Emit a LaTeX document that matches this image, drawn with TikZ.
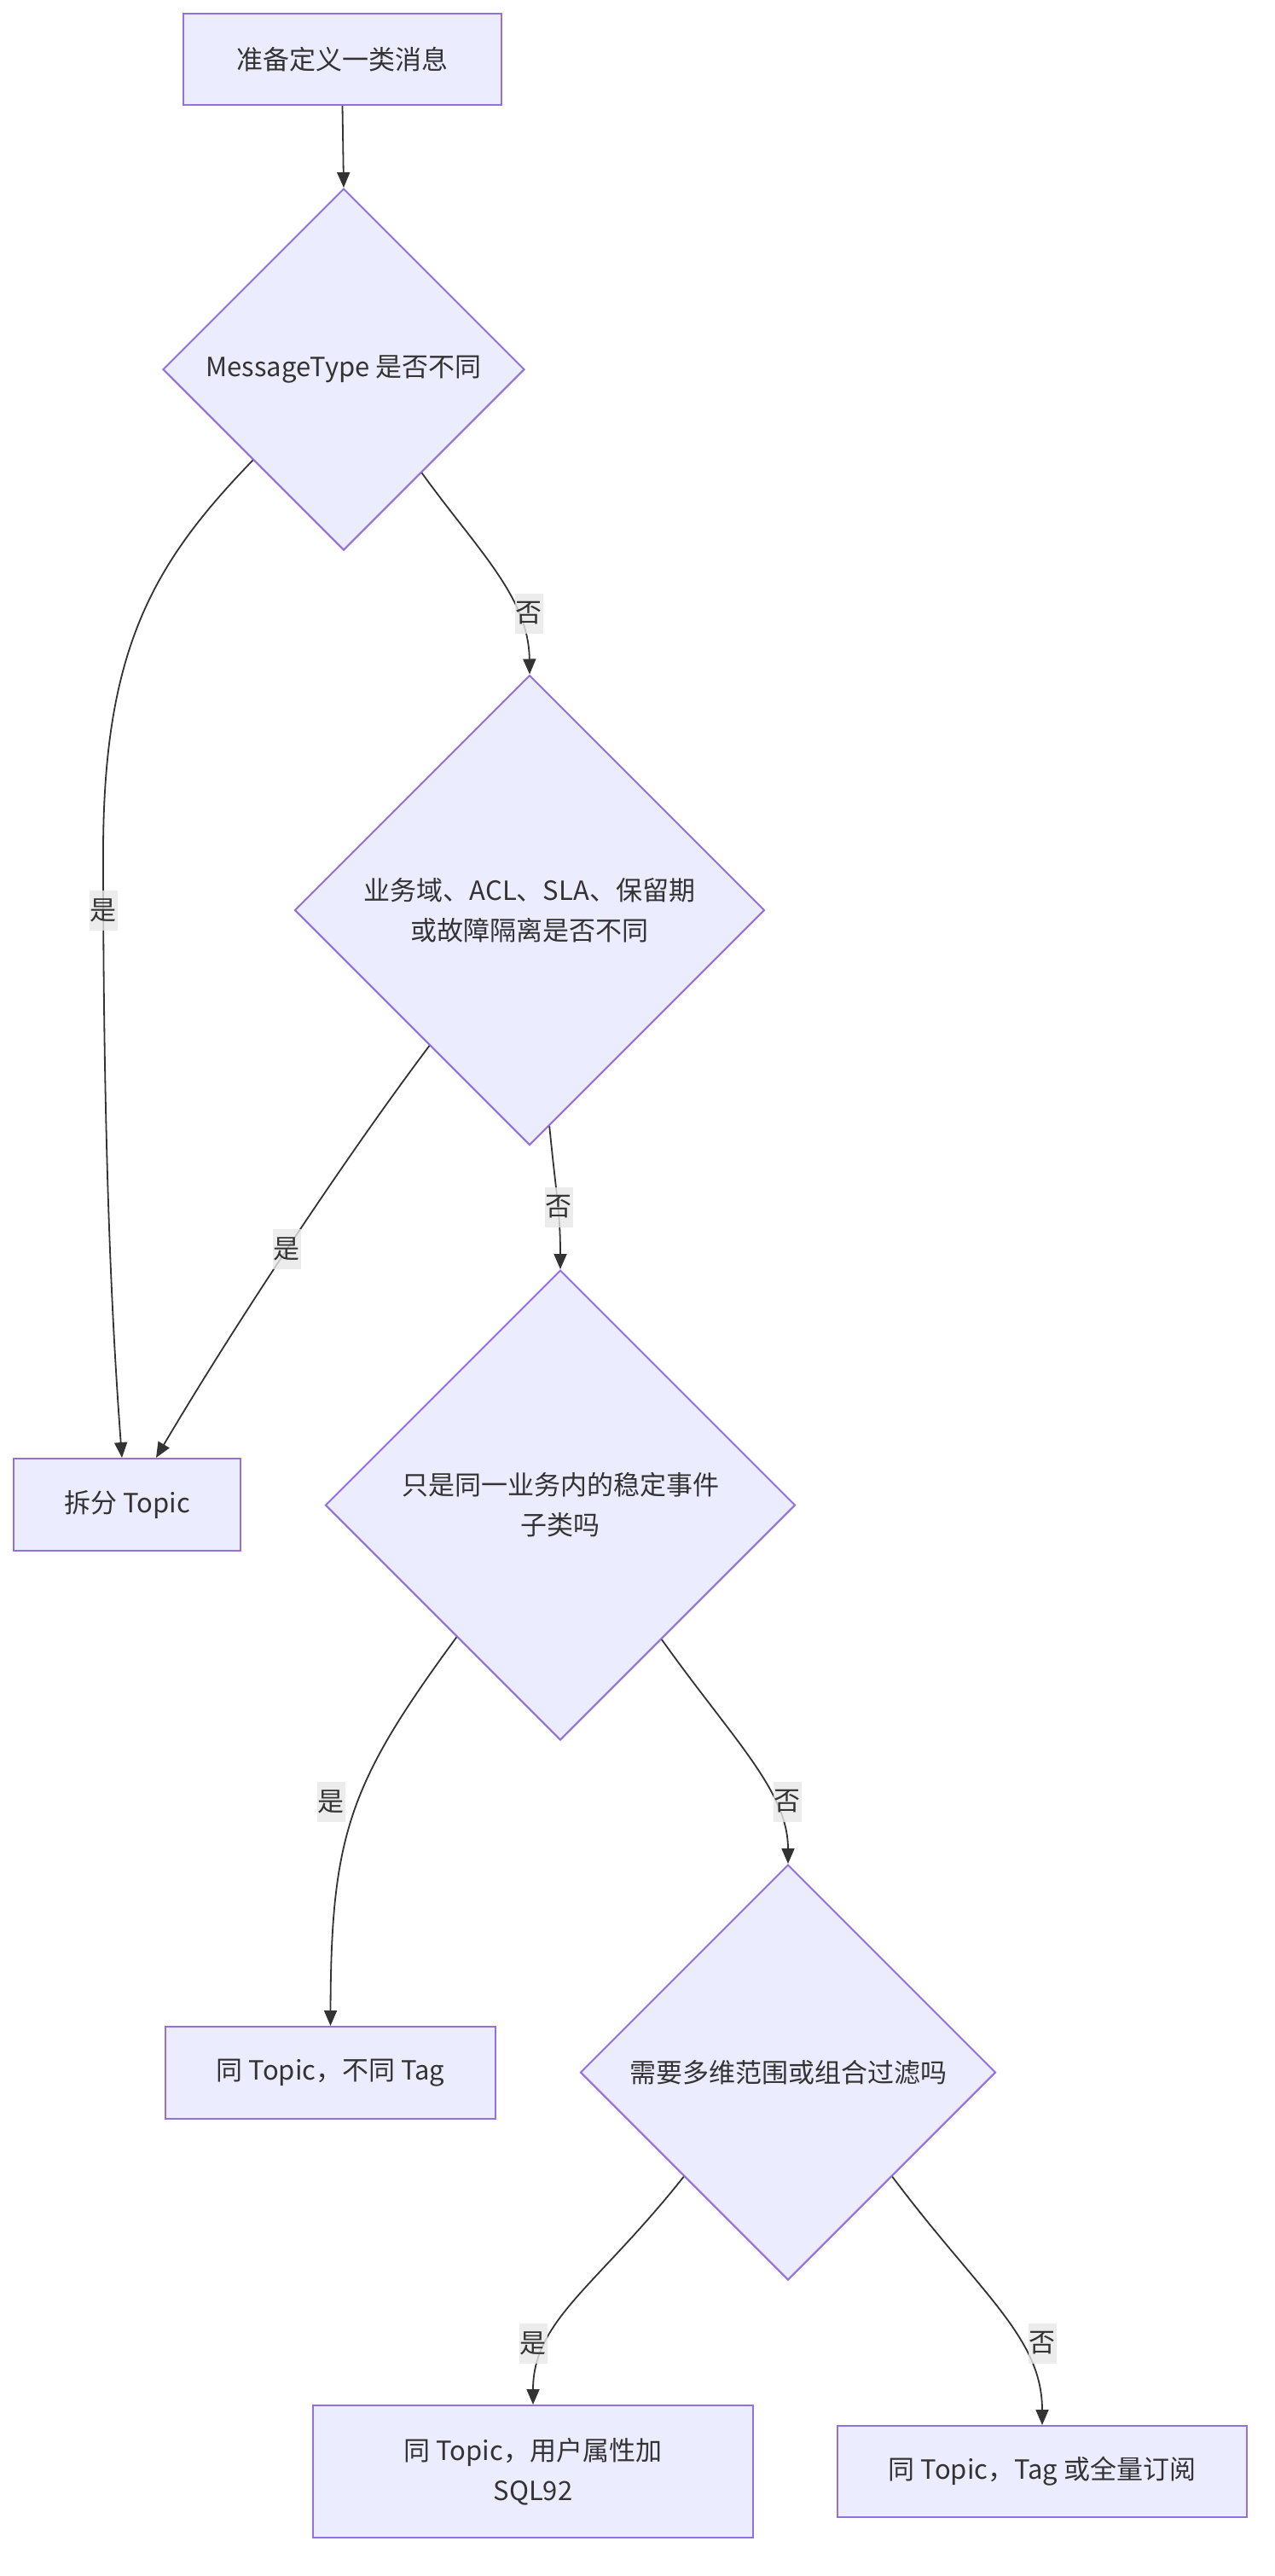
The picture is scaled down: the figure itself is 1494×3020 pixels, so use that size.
\documentclass[tikz,border=0pt]{standalone}
\usepackage{fontspec}
\setmainfont{Noto Sans CJK SC}
\usetikzlibrary{shapes.geometric,arrows.meta,calc}
\definecolor{nodefill}{HTML}{ECECFF}
\definecolor{nodeborder}{HTML}{9370DB}
\definecolor{edgecol}{HTML}{333333}
\definecolor{labelbg}{HTML}{E8E8E8}
\begin{document}
\begin{tikzpicture}[x=1pt,y=-1pt,
  txt/.style={text=edgecol,font=\fontsize{31}{47}\selectfont,align=center},
  box/.style={txt,rectangle,draw=nodeborder,fill=nodefill,line width=2pt,inner sep=0pt},
  dia/.style={txt,diamond,draw=nodeborder,fill=nodefill,line width=2pt,inner sep=0pt},
  conn/.style={draw=edgecol,line width=1.8pt,-{Triangle[length=18pt,width=15pt]}},
  lbl/.style={txt,fill=labelbg,fill opacity=0.8,text opacity=1,inner xsep=1pt,inner ysep=0pt,minimum height=47pt}]
\fill[white] (0,0) rectangle (1494,3020);
\useasboundingbox (0,0) rectangle (1494,3020);

% nodes
\node[box,minimum width=373pt,minimum height=107pt] (start) at (401.5,69.5) {准备定义一类消息};
\node[dia,minimum width=424pt,minimum height=424pt] (q1) at (403,433) {MessageType 是否不同};
\node[dia,minimum width=551pt,minimum height=551pt] (q2) at (621,1067) {业务域、ACL、SLA、保留期\\或故障隔离是否不同};
\node[box,minimum width=266pt,minimum height=108pt] (split) at (149,1764) {拆分 Topic};
\node[dia,minimum width=551pt,minimum height=551pt] (q3) at (657,1764.5) {只是同一业务内的稳定事件\\子类吗};
\node[box,minimum width=387pt,minimum height=108pt] (tag) at (387.5,2430) {同 Topic，不同 Tag};
\node[dia,minimum width=487pt,minimum height=487pt] (q4) at (924,2429.5) {需要多维范围或组合过滤吗};
\node[box,minimum width=516pt,minimum height=155pt] (sql) at (625,2897.5) {同 Topic，用户属性加\\SQL92};
\node[box,minimum width=480pt,minimum height=107pt] (full) at (1222,2897.5) {同 Topic，Tag 或全量订阅};

% connectors
\draw[conn] (start.south) -- (q1.north);
\draw[conn] (q1.south west) .. controls (180,660) and (121,760) .. (121,1000)
  .. controls (121,1400) and (135,1600) .. ($(split.north)+(-6,0)$);
\draw[conn] ($(q1.south)!0.43!(q1.east)$) .. controls (560,645) and (620,700) .. (q2.north);
\draw[conn] ($(q2.south)!0.425!(q2.west)$) .. controls (410,1350) and (280,1545) .. ($(split.north)+(34,0)$);
\draw[conn] ($(q2.south)!0.084!(q2.east)$) .. controls (652,1400) and (657,1420) .. (q3.north);
\draw[conn] ($(q3.south)!0.44!(q3.west)$) .. controls (410,2090) and (388,2150) .. (tag.north);
\draw[conn] ($(q3.south)!0.43!(q3.east)$) .. controls (860,2040) and (924,2100) .. (q4.north);
\draw[conn] (q4.south west) .. controls (700,2680) and (625,2720) .. (sql.north);
\draw[conn] (q4.south east) .. controls (1150,2690) and (1222,2740) .. (full.north);

% edge labels
\node[lbl] (l1) at (121,1067) {是};
\node[lbl] (l2) at (620,719) {否};
\node[lbl] (l3) at (336,1464) {是};
\node[lbl] (l4) at (655,1415) {否};
\node[lbl] (l5) at (388,2112) {是};
\node[lbl] (l6) at (923,2112) {否};
\node[lbl] (l7) at (625,2747) {是};
\node[lbl] (l8) at (1222,2747) {否};
\end{tikzpicture}
\end{document}
